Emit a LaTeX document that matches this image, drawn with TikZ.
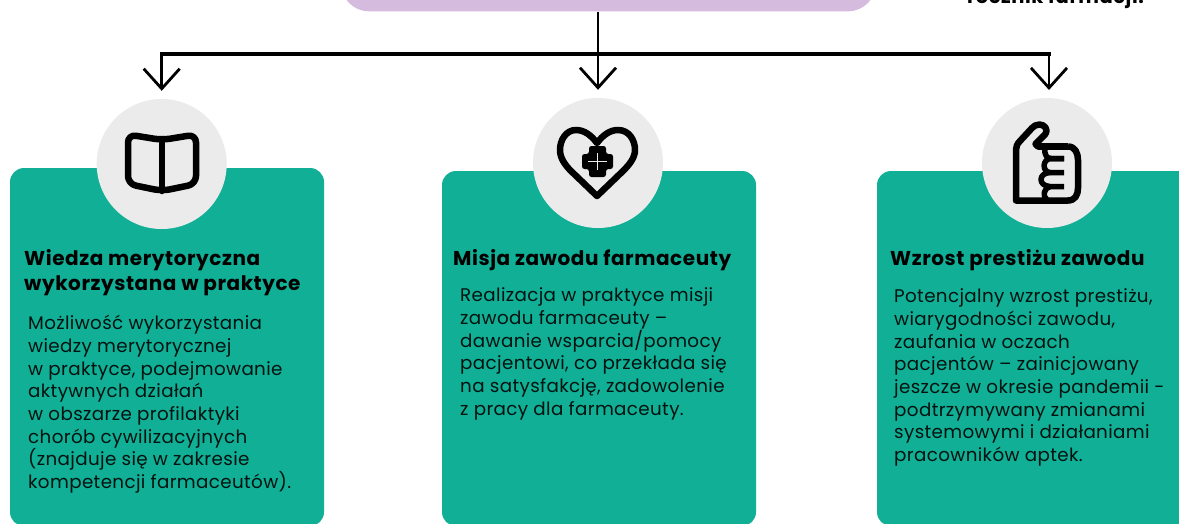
\documentclass[tikz,border=0pt]{standalone}
\usepackage{fontspec}
\usetikzlibrary{arrows.meta}
\setmainfont{Poppins}
\newfontfamily\headf[LetterSpace=2.8]{Poppins}
\newfontfamily\bodyf[LetterSpace=2]{Poppins}
\definecolor{cardgreen}{HTML}{10AF96}
\definecolor{toppurple}{HTML}{D5BBDD}
\definecolor{circgray}{HTML}{EBEBEB}
\tikzset{
  x=1pt,y=-1pt,
  card/.style={fill=cardgreen,rounded corners=14pt},
  disc/.style={circle,fill=circgray,inner sep=0pt,minimum size=130pt},
  headtext/.style={anchor=north west,inner sep=0pt,align=left,text=black,font=\headf\fontsize{20}{25}\selectfont\bfseries},
  bodytext/.style={anchor=north west,inner sep=0pt,align=left,text=black!90!cardgreen,font=\bodyf\fontsize{18.3}{22.7}\selectfont},
  link/.style={line width=3.2pt,draw=black},
  arrowlink/.style={line width=2.8pt,draw=black,-{Straight Barb[length=20pt,width=36pt,line width=2.8pt]},shorten >=8pt},
  icon/.style={line width=6.5pt,draw=black,line cap=round,line join=round}
}
\begin{document}
\begin{tikzpicture}
\useasboundingbox (0,0) rectangle (1179,523);
\clip (0,0) rectangle (1179,523);
\fill[white] (0,0) rectangle (1179,523);
% top box and note
\node[fill=toppurple,rounded corners=28pt,minimum width=535pt,minimum height=60pt,inner sep=0pt,anchor=south] (top) at (608.5,11.5) {};
\node[anchor=base east,inner sep=0pt,font=\headf\fontsize{19.5}{20}\selectfont\bfseries] (note) at (1144,3) {rocznik farmacji.};
% cards
\fill[card] (10,168) rectangle (324,526);
\fill[card] (442,171) rectangle (756,526);
\fill[card] (877,171) rectangle (1191,526);
\node[minimum width=314pt,minimum height=358pt,inner sep=0pt,anchor=north west] (card1) at (10,168) {};
\node[minimum width=314pt,minimum height=355pt,inner sep=0pt,anchor=north west] (card2) at (442,171) {};
\node[minimum width=314pt,minimum height=355pt,inner sep=0pt,anchor=north west] (card3) at (877,171) {};
% discs
\node[disc] (d1) at (161.7,164) {};
\node[disc] (d2) at (598,163) {};
\node[disc] (d3) at (1047,163) {};
% connectors
\coordinate (a3) at (1049,98);
\coordinate (bus1) at (d1.north |- 0,54);
\coordinate (bus3) at (a3 |- 0,54);
\draw[link,line cap=rect] (bus1) -- (bus3);
\draw[arrowlink] (bus1) -- (d1.north);
\draw[arrowlink] (bus3) -- (a3);
\draw[arrowlink] (d2.north |- top.south) -- (d2.north);
% book icon
\draw[icon,rounded corners=8pt] (162,140) -- (128,134.5) -- (128,184) -- (162,191) -- (196,184) -- (196,134.5) -- cycle;
\draw[icon] (162,140) -- (162,191);
% heart icon
\draw[icon] (597,143) .. controls (591,135) and (584,130) .. (576,130)
  .. controls (566,130) and (560,140) .. (560,150)
  .. controls (560,158) and (565,165) .. (571,171) -- (597,196) -- (623,171)
  .. controls (629,165) and (635,158) .. (635,150)
  .. controls (635,140) and (629,130) .. (618,130)
  .. controls (610,130) and (603,135) .. (597,143) -- cycle;
\fill[black,rounded corners=2.5pt] (589,146) -- (606,146) -- (606,154) -- (613,154) -- (613,169) -- (606,169) -- (606,177) -- (589,177) -- (589,169) -- (582,169) -- (582,154) -- (589,154) -- cycle;
\draw[circgray,line width=1.8pt] (597.5,153) -- (597.5,170) (588,161.5) -- (607,161.5);
% thumb icon
\draw[icon,line cap=butt] (1068,146.5) -- (1038,146.5);
\draw[icon] (1038,146.5) -- (1035.5,144) -- (1045,134.5)
  .. controls (1049,129) and (1044,124.5) .. (1039.5,124.5) .. controls (1036,124.5) and (1034,126) .. (1032,128)
  -- (1020,141) .. controls (1017,144) and (1016,147) .. (1016,150) -- (1016,200.5) -- (1068,200.5);
\draw[icon,line cap=butt] (1068,146.5) .. controls (1075,146.5) and (1078,153) .. (1078,160) -- (1078,188) .. controls (1078,195) and (1075,200.5) .. (1068,200.5);
\draw[icon,line cap=butt,line width=5.5pt] (1064,158.5) -- (1051,158.5) .. controls (1047,158.5) and (1044,155) .. (1045,148);
\draw[icon,line cap=butt,line width=5.5pt] (1064,158.5) -- (1051,158.5) .. controls (1042,159) and (1042,172) .. (1050,172.5) -- (1064,172.5);
\draw[icon,line cap=butt,line width=5.5pt] (1050,172.5) .. controls (1038,173) and (1038,186) .. (1050,186.5) -- (1064,186.5);
\draw[icon,line cap=butt,line width=5.5pt] (1050,186.5) .. controls (1044,188) and (1042,196) .. (1047,200);
% card text
\node[headtext] (h1) at (24,249) {Wiedza merytoryczna\\wykorzystana w praktyce};
\node[bodytext] (b1) at (28,315) {Możliwość wykorzystania\\wiedzy merytorycznej\\w praktyce, podejmowanie\\aktywnych działań\\w obszarze profilaktyki\\chorób cywilizacyjnych\\(znajduje się w zakresie\\kompetencji farmaceutów).};
\node[headtext] (h2) at (453,249) {Misja zawodu farmaceuty};
\node[bodytext] (b2) at (460,287.5) {Realizacja w praktyce misji\\zawodu farmaceuty –\\dawanie wsparcia/pomocy\\pacjentowi, co przekłada się\\na satysfakcję, zadowolenie\\z pracy dla farmaceuty.};
\node[headtext] (h3) at (890,249) {Wzrost prestiżu zawodu};
\node[bodytext] (b3) at (894,288.5) {Potencjalny wzrost prestiżu,\\wiarygodności zawodu,\\zaufania w oczach\\pacjentów – zainicjowany\\jeszcze w okresie pandemii -\\podtrzymywany zmianami\\systemowymi i działaniami\\pracowników aptek.};
\end{tikzpicture}
\end{document}
